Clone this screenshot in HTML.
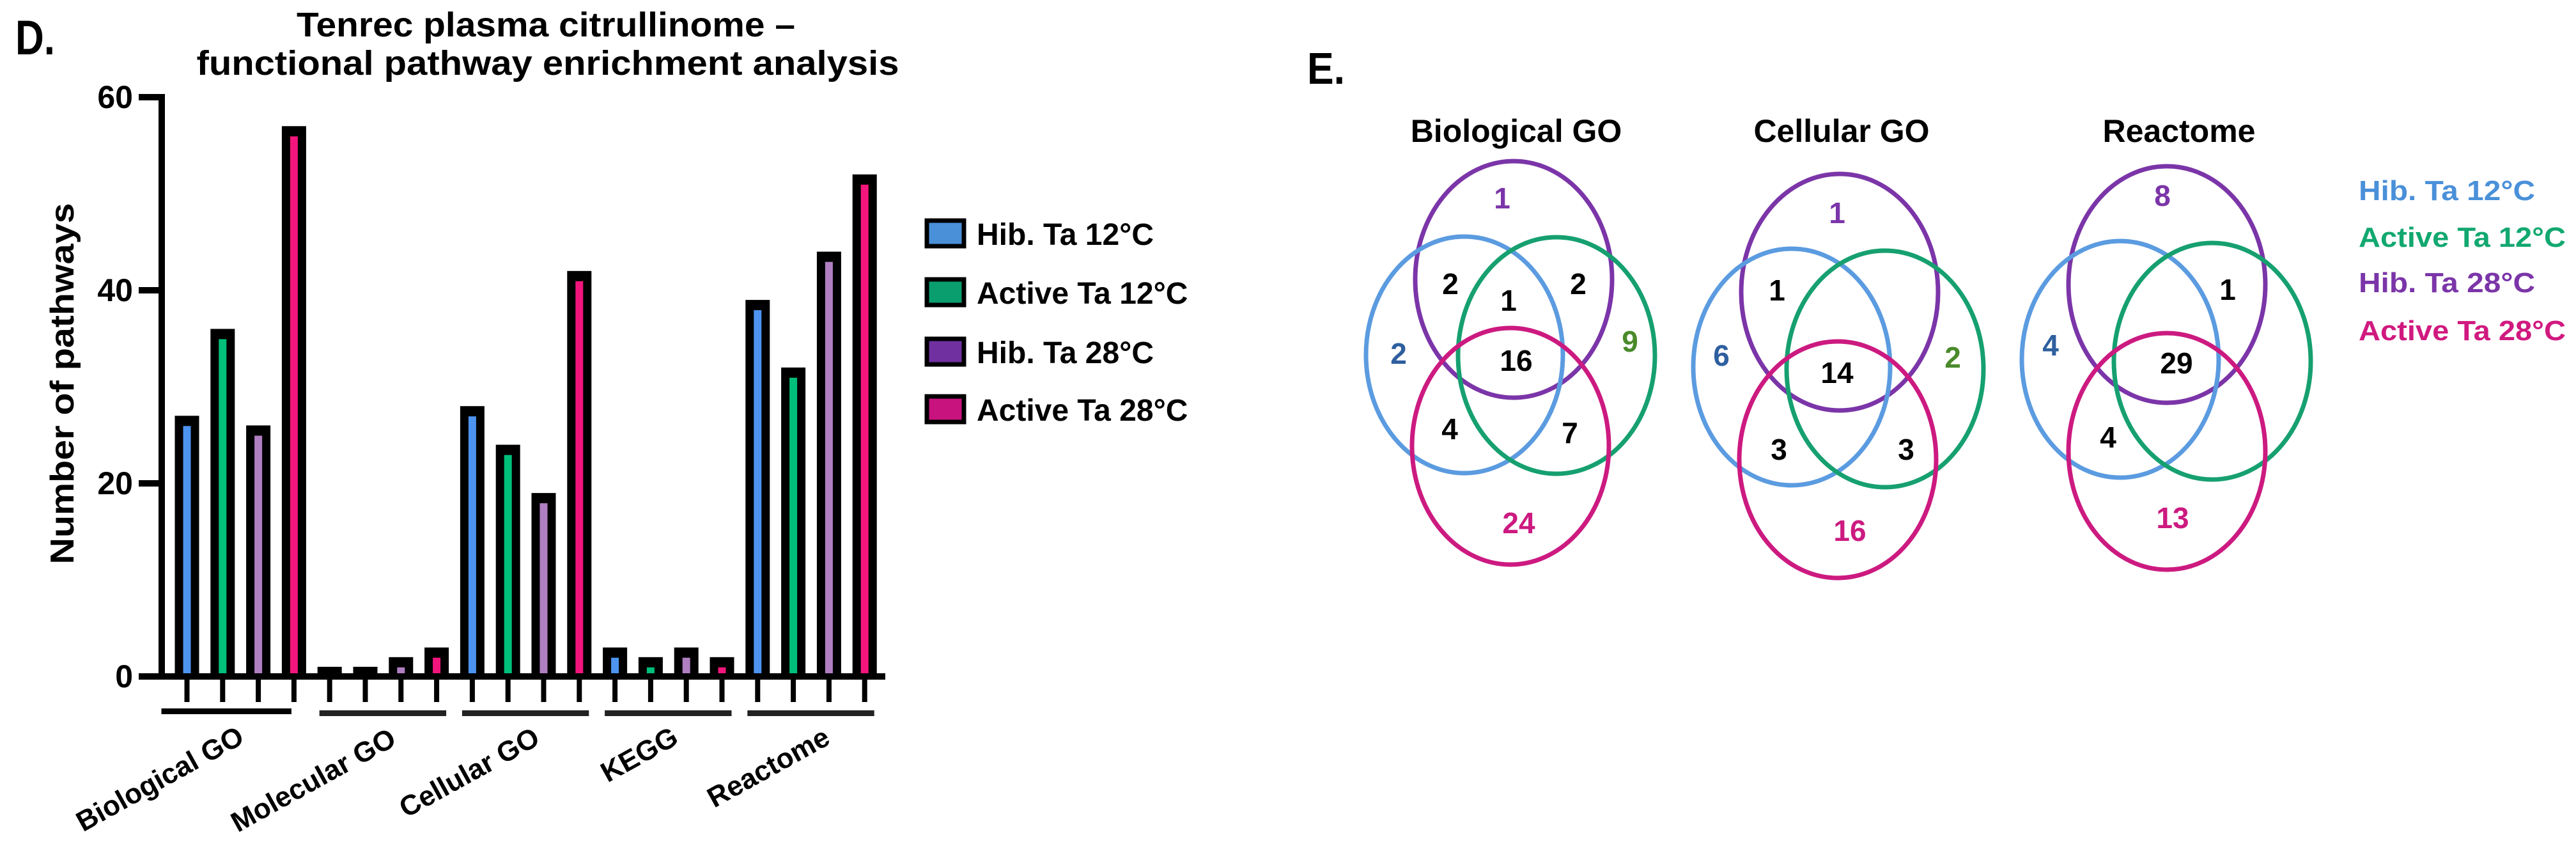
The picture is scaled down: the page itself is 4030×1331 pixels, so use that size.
<!DOCTYPE html>
<html><head><meta charset="utf-8"><style>
html,body{margin:0;padding:0;background:#fff;}
svg{display:block;font-family:"Liberation Sans",Arial,sans-serif;font-weight:bold;}
</style></head><body>
<svg id="fig" width="4030" height="1331" viewBox="0 0 4030 1331" xmlns="http://www.w3.org/2000/svg">
<g id="panelD">
<text x="24" y="85" font-size="76" textLength="62" lengthAdjust="spacingAndGlyphs">D.</text>
<text x="854" y="57" font-size="54" text-anchor="middle" textLength="780" lengthAdjust="spacingAndGlyphs">Tenrec plasma citrullinome –</text>
<text x="857" y="117" font-size="54" text-anchor="middle" textLength="1099" lengthAdjust="spacingAndGlyphs">functional pathway enrichment analysis</text>
<text transform="translate(115,600) rotate(-90)" font-size="52" text-anchor="middle" textLength="565" lengthAdjust="spacingAndGlyphs">Number of pathways</text>
<g id="bars"></g>
<g id="axes"></g>
<g id="legendD"></g>
</g>
<g id="panelE">
<text x="2045" y="131" font-size="70" textLength="59" lengthAdjust="spacingAndGlyphs">E.</text>
<g id="venns"></g>
<g id="legendE"></g>
</g>
</svg>
<script>
const categories = ["Biological GO","Molecular GO","Cellular GO","KEGG","Reactome"];
const seriesNames = ["Hib. Ta 12°C","Active Ta 12°C","Hib. Ta 28°C","Active Ta 28°C"];
const hib12 = [27, 1, 28, 3, 39];
const active12 = [36, 1, 24, 2, 32];
const hib28 = [26, 2, 19, 3, 44];
const active28 = [57, 3, 42, 2, 52];
const yTicks = [0, 20, 40, 60];
const vennTitles = ["Biological GO","Cellular GO","Reactome"];
const vennBio = ["1","2","1","2","2","16","9","4","7","24"];
const vennCell = ["1","1","6","14","2","3","3","16"];
const vennReact = ["8","1","4","29","4","13"];

const NS = "http://www.w3.org/2000/svg";
function mk(tag, attrs, parent, txt){
  const e = document.createElementNS(NS, tag);
  for (const k in attrs) e.setAttribute(k, attrs[k]);
  if (txt !== undefined) e.textContent = txt;
  parent.appendChild(e); return e;
}
const barFill = ["#4d94f0","#00bf7a","#b07fc2","#f2157c"];
const legFill = ["#4a90d9","#0a9e6e","#7030a0","#c8127e"];
const series = [hib12, active12, hib28, active28];
const y0 = 1058, yMax = 60, yTop = 152;
function yS(v){ return y0 - (y0 - yTop) * v / yMax; }
function xS(ci, si){ return 292.5 + 55.8 * (ci * 4 + si); }

const bars = document.getElementById('bars');
categories.forEach((c, ci) => {
  series.forEach((s, si) => {
    const cx = xS(ci, si), top = yS(s[ci]);
    const r = mk('rect', {x: cx - 19, y: top, width: 38, height: y0 - top, fill: '#000'}, bars);
    
    
    const it = top + 16;
    if (it < y0) {
      const ri = mk('rect', {x: cx - 6, y: it, width: 12, height: y0 - it, fill: barFill[si]}, bars);
      
      
    }
  });
});

const axes = document.getElementById('axes');
const yl = mk('rect', {x: 248, y: 147, width: 10, height: 915, fill: '#000'}, axes);


const xl = mk('rect', {x: 217, y: 1053, width: 1168, height: 10, fill: '#000'}, axes);


yTicks.forEach(t => {
  const y = yS(t);
  const tk = mk('rect', {x: 217, y: y - 5, width: 36, height: 10, fill: '#000'}, axes);
  
  
  const tl = mk('text', {x: 208, y: y + 17, 'font-size': 50, 'text-anchor': 'end'}, axes, String(t));
  
  
});
const labelPos = [[250,1218],[490,1220],[734,1208],[1000,1180],[1202,1200]];
categories.forEach((c, ci) => {
  for (let si = 0; si < 4; si++) {
    const tk = mk('rect', {x: xS(ci, si) - 4, y: 1062, width: 8, height: 36, fill: '#000'}, axes);
    
    
  }
  const x1 = ci === 0 ? xS(ci,0) - 40 : xS(ci,0) - 16;
  const x2 = ci === 0 ? xS(ci,3) - 4 : xS(ci,3) + 15;
  const ul = mk('rect', {x: x1, y: ci === 0 ? 1108 : 1111, width: x2 - x1, height: 9, fill: ci === 0 ? '#000' : '#222'}, axes);
  
  
  const p = labelPos[ci];
  const lb = mk('text', {transform: 'translate(' + p[0] + ',' + p[1] + ') rotate(-29)', 'font-size': 44, 'text-anchor': 'middle', dy: 15}, axes, c);
  
  
});

const legD = document.getElementById('legendD');
const legY = [365, 457, 550, 640];
seriesNames.forEach((n, i) => {
  const b = mk('rect', {x: 1450, y: legY[i] - 20, width: 58, height: 40, fill: legFill[i], stroke: '#000', 'stroke-width': 7}, legD);
  
  
  const t = mk('text', {x: 1528, y: legY[i] + 18, 'font-size': 48}, legD, n);
  
  
});

// Venn diagrams
const vennCol = {p:'#7b35a8', b:'#5b9be0', g:'#16a070', m:'#cc1a80'};
const numCol = {k:'#000', p:'#7b35a8', b:'#2e5f9e', g:'#4a8a2a', m:'#cc1a80'};
const venns = document.getElementById('venns');
const vennDefs = [
  {tx:2372, ell:[['p',2368,437],['b',2291,555],['g',2435,556],['m',2363,698]],
   vals: vennBio,
   pos:[[2350,309,'p'],[2269,443,'k'],[2360,469,'k'],[2469,443,'k'],[2188,552,'b'],[2372,563,'k'],[2550,533,'g'],[2268,670,'k'],[2456,676,'k'],[2376,817,'m']]},
  {tx:2881, ell:[['p',2878,457],['b',2803,574],['g',2949,577],['m',2875,719]],
   vals: vennCell,
   pos:[[2874,332,'p'],[2780,453,'k'],[2693,555,'b'],[2874,582,'k'],[3055,558,'g'],[2783,702,'k'],[2982,702,'k'],[2894,829,'m']]},
  {tx:3409, ell:[['p',3390,445],['b',3317,562],['g',3461,565],['m',3390,706]],
   vals: vennReact,
   pos:[[3383,305,'p'],[3485,452,'k'],[3208,539,'b'],[3405,567,'k'],[3298,683,'k'],[3399,809,'m']]}
];
vennDefs.forEach((v, vi) => {
  const g = mk('g', {}, venns);
  
  
  const tt = mk('text', {x: v.tx, y: 222, 'font-size': 50, 'text-anchor': 'middle'}, g, vennTitles[vi]);
  
  
  v.ell.forEach(e => {
    const el = mk('ellipse', {cx: e[1], cy: e[2], rx: 154, ry: 185, fill: 'none', stroke: vennCol[e[0]], 'stroke-width': 7}, g);
    
    
  });
  v.vals.forEach((val, i) => {
    const p = v.pos[i];
    const t = mk('text', {x: p[0], y: p[1] + 17, 'font-size': 46, 'text-anchor': 'middle', fill: numCol[p[2]]}, g, val);
    
    
  });
});
const legE = document.getElementById('legendE');
const legEY = [297, 370, 441, 516];
const legECol = ['#4a90d9','#12a870','#7b35a8','#d0197f'];
const legEW = [276, 324, 276, 324];
seriesNames.forEach((n, i) => {
  const t = mk('text', {x: 3690, y: legEY[i] + 16, 'font-size': 44, fill: legECol[i], textLength: legEW[i], lengthAdjust: 'spacingAndGlyphs'}, legE, n);
  
  
});
</script>
</body></html>
